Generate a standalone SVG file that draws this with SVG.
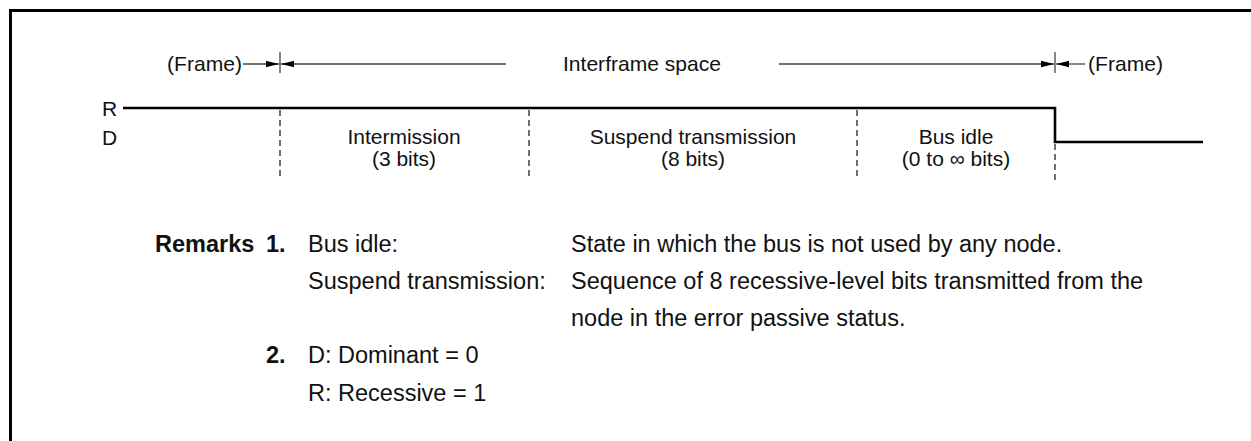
<svg xmlns="http://www.w3.org/2000/svg" width="1251" height="441" viewBox="0 0 1251 441">
<style>
text{font-family:"Liberation Sans",Arial,Helvetica,sans-serif;fill:#111}
.lbl{font-size:21px}
.rem{font-size:23.5px}
.b{font-weight:bold}
.dim{stroke:#444;stroke-width:1.3;fill:none}
.tick{stroke:#444;stroke-width:1.3}
.dash{stroke:#333;stroke-width:1.4;stroke-dasharray:6,4;fill:none}
.sig{stroke:#000;stroke-width:2.6;fill:none}
</style>
<defs>
<marker id="ah" markerUnits="userSpaceOnUse" markerWidth="13" markerHeight="7" refX="13" refY="3.5" orient="auto">
<path d="M0,0.3 L13,3.5 L0,6.7 z" fill="#000"/>
</marker>
</defs>
<g id="border">
<path d="M10.5,441 V10.5 H1251" fill="none" stroke="#000" stroke-width="3"/>
</g>
<g id="connectors">
<line class="dim" x1="243" y1="64" x2="279" y2="64" marker-end="url(#ah)"/>
<line class="dim" x1="506" y1="64" x2="281" y2="64" marker-end="url(#ah)"/>
<line class="dim" x1="779" y1="64" x2="1054" y2="64" marker-end="url(#ah)"/>
<line class="dim" x1="1085" y1="64" x2="1056" y2="64" marker-end="url(#ah)"/>
<line class="tick" x1="280" y1="52" x2="280" y2="73"/>
<line class="tick" x1="1055" y1="52" x2="1055" y2="73"/>
</g>
<g id="signal">
<path class="sig" d="M123,108 H1055 V142 H1203"/>
<line class="dash" x1="280" y1="110" x2="280" y2="180"/>
<line class="dash" x1="529" y1="110" x2="529" y2="180"/>
<line class="dash" x1="857" y1="110" x2="857" y2="180"/>
<line class="dash" x1="1055" y1="144" x2="1055" y2="180"/>
</g>
<g id="labels">
<text class="lbl" x="167" y="71" textLength="75" lengthAdjust="spacingAndGlyphs">(Frame)</text>
<text class="lbl" x="563" y="71" textLength="158" lengthAdjust="spacingAndGlyphs">Interframe space</text>
<text class="lbl" x="1088" y="71" textLength="75" lengthAdjust="spacingAndGlyphs">(Frame)</text>
<text class="lbl" x="102" y="116">R</text>
<text class="lbl" x="102" y="145">D</text>
</g>
<g id="intermission">
<text class="lbl" x="404" y="144" text-anchor="middle">Intermission</text>
<text class="lbl" x="404" y="166" text-anchor="middle">(3 bits)</text>
</g>
<g id="suspend">
<text class="lbl" x="693" y="144" text-anchor="middle">Suspend transmission</text>
<text class="lbl" x="693" y="166" text-anchor="middle">(8 bits)</text>
</g>
<g id="busidle">
<text class="lbl" x="956" y="144" text-anchor="middle">Bus idle</text>
<text class="lbl" x="956" y="166" text-anchor="middle">(0 to ∞ bits)</text>
</g>
<g id="remarks">
<text class="rem b" x="155" y="252">Remarks</text>
<text class="rem b" x="266" y="252">1.</text>
<text class="rem" x="308" y="252">Bus idle:</text>
<text class="rem" x="308" y="289">Suspend transmission:</text>
<text class="rem" x="571" y="252">State in which the bus is not used by any node.</text>
<text class="rem" x="571" y="289">Sequence of 8 recessive-level bits transmitted from the</text>
<text class="rem" x="571" y="326">node in the error passive status.</text>
<text class="rem b" x="266" y="363">2.</text>
<text class="rem" x="308" y="363">D: Dominant = 0</text>
<text class="rem" x="308" y="401">R: Recessive = 1</text>
</g>
</svg>
